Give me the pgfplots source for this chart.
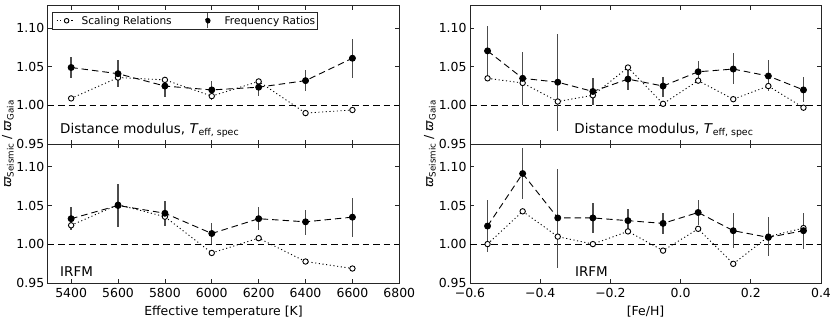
\documentclass[border=0pt]{standalone}
\usepackage{fontspec}
\setmainfont{DejaVu Sans}
\usepackage{pgfplots}
\usepackage{pgfplotstable}
\pgfplotsset{compat=1.18}

% Teff panels
\pgfplotstableread{
x y ep em
5400 1.049 0.013 0.014
5600 1.041 0.018 0.017
5800 1.025 0.010 0.014
6000 1.020 0.012 0.013
6200 1.0235 0.0095 0.0115
6400 1.032 0.014 0.014
6600 1.061 0.025 0.026
}\freqTa
\pgfplotstableread{
x y
5400 1.009
5600 1.036
5800 1.033
6000 1.012
6200 1.031
6400 0.990
6600 0.994
}\scalTa
\pgfplotstableread{
x y ep em
5400 1.033 0.015 0.015
5600 1.050 0.027 0.028
5800 1.040 0.016 0.016
6000 1.014 0.014 0.014
6200 1.033 0.015 0.015
6400 1.029 0.015 0.017
6600 1.035 0.025 0.025
}\freqTb
\pgfplotstableread{
x y
5400 1.0245
5600 1.051
5800 1.0356
6000 0.989
6200 1.008
6400 0.978
6600 0.969
}\scalTb
% [Fe/H] panels
\pgfplotstableread{
x y ep em
-0.55 1.0705 0.032 0.032
-0.45 1.035 0.034 0.035
-0.35 1.030 0.063 0.063
-0.25 1.018 0.017 0.018
-0.15 1.034 0.018 0.014
-0.05 1.025 0.0115 0.014
0.05 1.0435 0.0145 0.0145
0.15 1.047 0.021 0.019
0.25 1.038 0.021 0.020
0.35 1.020 0.0165 0.016
}\freqFa
\pgfplotstableread{
x y
-0.55 1.035
-0.45 1.029
-0.35 1.005
-0.25 1.013
-0.15 1.049
-0.05 1.002
0.05 1.032
0.15 1.008
0.25 1.025
0.35 0.997
}\scalFa
\pgfplotstableread{
x y ep em
-0.55 1.0236 0.034 0.034
-0.45 1.091 0.033 0.033
-0.35 1.034 0.063 0.064
-0.25 1.034 0.019 0.020
-0.15 1.0305 0.0155 0.0145
-0.05 1.027 0.013 0.014
0.05 1.041 0.016 0.0165
0.15 1.0176 0.0224 0.0216
0.25 1.009 0.0266 0.024
0.35 1.0176 0.0224 0.0236
}\freqFb
\pgfplotstableread{
x y
-0.55 1.0004
-0.45 1.0425
-0.35 1.010
-0.25 1.0004
-0.15 1.0167
-0.05 0.992
0.05 1.020
0.15 0.975
0.25 1.010
0.35 1.021
}\scalFb

\newcommand\fsT{\fontsize{12.5}{14}\selectfont}
\newcommand\fsA{\fontsize{13.5}{15}\selectfont}
\newcommand\fsL{\fontsize{10.6}{12}\selectfont}

\pgfplotsset{
  panel/.style={
    scale only axis,
    ymin=0.95, ymax=1.129,
    ytick={0.95,1.00,1.05,1.10},
    yticklabels={0.95,1.00,1.05,1.10},
    tick align=inside,
    major tick length=4bp,
    tick style={black!85, line width=0.8bp},
    axis line style={black!85, line width=0.9bp},
    tick label style={font=\fsT, text=black},
    xticklabel style={yshift=-1.5bp},
    label style={font=\fsT},
    xlabel style={yshift=-1.2bp},
    clip=false,
  },
  tpanel/.style={panel, width=351.6bp, xmin=5300, xmax=6800,
    xtick={5400,5600,5800,6000,6200,6400,6600,6800}},
  fpanel/.style={panel, width=351bp, xmin=-0.6, xmax=0.4,
    xtick={-0.6,-0.4,-0.2,0.0,0.2,0.4}},
  scal/.style={black, dash pattern=on 1.1bp off 2.6bp, line width=0.9bp,
    mark=*, mark size=2.7bp,
    mark options={solid, fill=white, draw=black, line width=0.9bp}},
  freq/.style={black, dash pattern=on 6.5bp off 4bp, line width=0.9bp,
    mark=*, mark size=3bp, mark options={solid, fill=black},
    /pgfplots/error bars/y dir=both,
    /pgfplots/error bars/y explicit,
    /pgfplots/error bars/error mark=none,
    /pgfplots/error bars/error bar style={solid, black!70, line width=1.3bp}},
  refl/.style={black, dash pattern=on 6.5bp off 4bp, line width=0.9bp, forget plot},
}

\begin{document}
\begin{tikzpicture}[x=1bp,y=1bp]
\path[use as bounding box] (0,0) rectangle (830,317);

% upper left
\begin{axis}[tpanel, at={(47.7bp,173bp)}, anchor=south west, height=138.3bp,
  xticklabels={},
  legend style={at={(0.0114,0.9566)}, anchor=north west, draw=black!85,
    line width=0.8bp, font=\fsL, inner sep=0.5bp, row sep=0pt,
    /tikz/every even column/.append style={column sep=24bp}},
  legend columns=2, legend cell align=left]
\addplot[refl] coordinates {(5300,1) (6800,1)};
\addplot[scal, legend image code/.code={
  \path[draw=none,fill=none] (-4bp,-7.5bp) rectangle (23bp,7.5bp);
  \draw[mark repeat=2,mark phase=2, mark size=2.3bp] plot coordinates {(0bp,0bp)(10bp,0bp)(17bp,0bp)};}]
  table[x=x,y=y] {\scalTa};
\addlegendentry{Scaling Relations}
\addplot[legend image code/.code={
  \path[draw=none,fill=none] (-10bp,-7.5bp) rectangle (15bp,7.5bp);
  \draw[solid, black!70, line width=1.3bp] (0bp,-7.5bp)--(0bp,7.5bp);
  \fill[black] (0bp,0bp) circle (2.4bp);}, freq]
  table[x=x,y=y,y error plus=ep,y error minus=em] {\freqTa};
\addlegendentry{Frequency Ratios}
\node[anchor=west, font=\fsA, inner sep=0] at (rel axis cs:0.035,0.096)
  {Distance modulus, \textit{T}\textsubscript{eff, spec}};
\end{axis}

% lower left
\begin{axis}[tpanel, at={(47.7bp,33.7bp)}, anchor=south west, height=139.3bp,
  xticklabels={5400,5600,5800,6000,6200,6400,6600,6800},
  xlabel={Effective temperature [K]}]
\addplot[refl] coordinates {(5300,1) (6800,1)};
\addplot[scal] table[x=x,y=y] {\scalTb};
\addplot[freq] table[x=x,y=y,y error plus=ep,y error minus=em] {\freqTb};
\node[anchor=west, font=\fsA, inner sep=0] at (rel axis cs:0.035,0.083) {IRFM};
\end{axis}

% upper right
\begin{axis}[fpanel, at={(470bp,173bp)}, anchor=south west, height=138.3bp,
  xticklabels={}]
\addplot[refl] coordinates {(-0.6,1) (0.4,1)};
\addplot[scal] table[x=x,y=y] {\scalFa};
\addplot[freq] table[x=x,y=y,y error plus=ep,y error minus=em] {\freqFa};
\node[anchor=west, font=\fsA, inner sep=0] at (rel axis cs:0.297,0.096)
  {Distance modulus, \textit{T}\textsubscript{eff, spec}};
\end{axis}

% lower right
\begin{axis}[fpanel, at={(470bp,33.7bp)}, anchor=south west, height=139.3bp,
  xticklabels={−0.6,−0.4,−0.2,0.0,0.2,0.4},
  xlabel={[Fe/H]}]
\addplot[refl] coordinates {(-0.6,1) (0.4,1)};
\addplot[scal] table[x=x,y=y] {\scalFb};
\addplot[freq] table[x=x,y=y,y error plus=ep,y error minus=em] {\freqFb};
\node[anchor=west, font=\fsA, inner sep=0] at (rel axis cs:0.299,0.083) {IRFM};
\end{axis}

\node[rotate=90, font=\fsT] at (8bp,173bp)
  {\textit{ϖ}\textsubscript{Seismic} / \textit{ϖ}\textsubscript{Gaia}};
\node[rotate=90, font=\fsT] at (430bp,173bp)
  {\textit{ϖ}\textsubscript{Seismic} / \textit{ϖ}\textsubscript{Gaia}};
\end{tikzpicture}
\end{document}
